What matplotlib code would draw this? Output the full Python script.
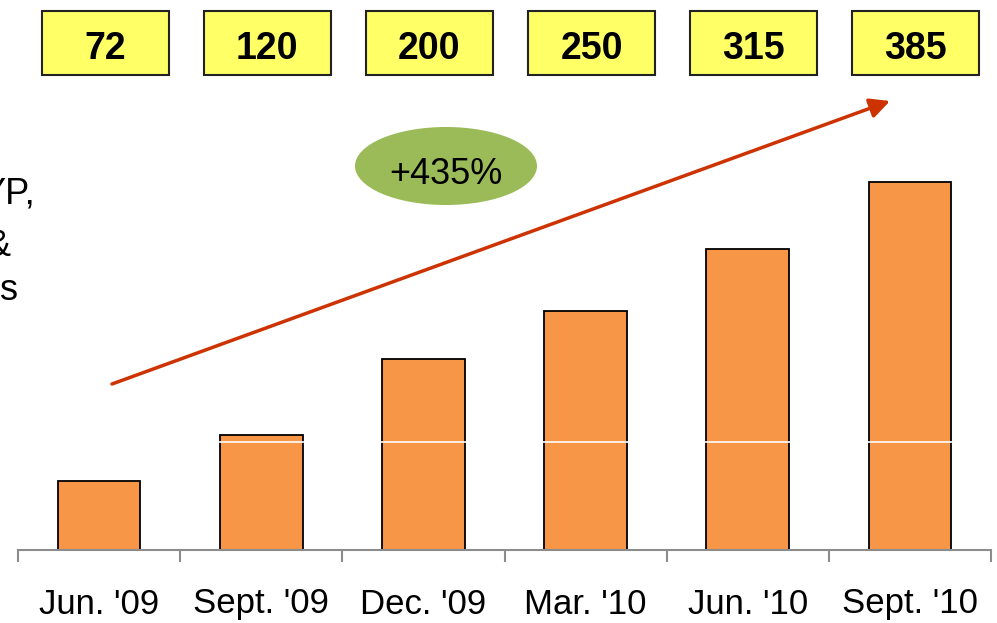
import matplotlib
matplotlib.use("Agg")
import matplotlib.pyplot as plt
from matplotlib.patches import Rectangle, Ellipse, FancyArrowPatch

plt.rcParams['font.family'] = ['Liberation Sans', 'DejaVu Sans']

categories = ["Jun. '09", "Sept. '09", "Dec. '09", "Mar. '10", "Jun. '10", "Sept. '10"]
values = [72, 120, 200, 250, 315, 385]
growth_label = "+435%"
side_labels = ["YP,", "&", "s"]
gridline_value = 113

W, H = 997, 623
dpi = 100
fig = plt.figure(figsize=(W / dpi, H / dpi), dpi=dpi)

# main axes in pixel layout
ax_left, ax_right, ax_bottom = 18, 991, 550
px_per_unit = 0.956
ymax = 420
ax_top = ax_bottom - ymax * px_per_unit
ax = fig.add_axes([ax_left / W, (H - ax_bottom) / H, (ax_right - ax_left) / W, (ax_bottom - ax_top) / H])
n = len(categories)
x = [i + 0.5 for i in range(n)]
ax.bar(x, values, width=0.51, color='#F79646', edgecolor='black', linewidth=1.3, zorder=2)
ax.axhline(gridline_value, color='white', lw=1.2, zorder=3)
ax.set_xlim(0, n)
ax.set_ylim(0, ymax)
for s in ['top', 'right', 'left']:
    ax.spines[s].set_visible(False)
ax.spines['bottom'].set_color('#8c8c8c')
ax.spines['bottom'].set_linewidth(1.5)
ax.set_yticks([])
ax.set_xticks(range(n + 1))
ax.set_xticklabels([])
ax.tick_params(axis='x', which='major', length=8.6, width=1.5, color='#8c8c8c', direction='out')
ax.set_xticks(x, minor=True)
ax.set_xticklabels(categories, minor=True, fontsize=25)
ax.tick_params(axis='x', which='minor', length=0, pad=27)

# overlay in pixel coordinates
ov = fig.add_axes([0, 0, 1, 1], facecolor='none')
ov.set_xlim(0, W)
ov.set_ylim(H, 0)
ov.axis('off')

cat_w = (ax_right - ax_left) / n
for i, v in enumerate(values):
    cx = ax_left + cat_w * (i + 0.5) + 6
    ov.add_patch(Rectangle((cx - 63.5, 11), 127, 64, facecolor='#FFFF66', edgecolor='#222222', lw=1.5))
    ov.text(cx, 45, str(v), ha='center', va='center_baseline', fontsize=27, fontweight='bold')

ov.add_patch(FancyArrowPatch((112, 384), (890, 101), arrowstyle='-|>,head_length=12,head_width=6',
                             color='#CC3300', lw=2.5, mutation_scale=1, shrinkA=0, shrinkB=0))

ov.add_patch(Ellipse((446, 166), 182, 78, facecolor='#9BBB59', edgecolor='none'))
ov.text(446, 170, growth_label, ha='center', va='center_baseline', fontsize=26)

ov.text(35, 190, side_labels[0], ha='right', va='center_baseline', fontsize=26)
ov.text(11, 242, side_labels[1], ha='right', va='center_baseline', fontsize=26)
ov.text(18, 286, side_labels[2], ha='right', va='center_baseline', fontsize=26)

fig.savefig('out.png', dpi=dpi)
